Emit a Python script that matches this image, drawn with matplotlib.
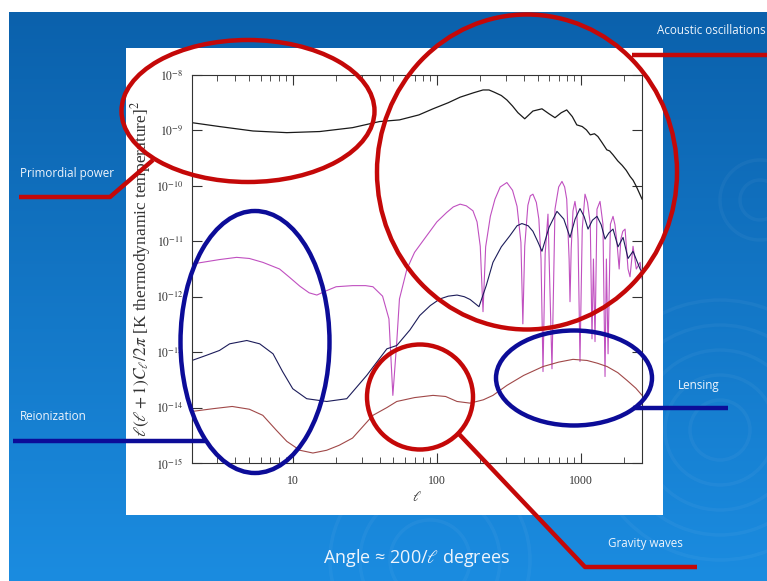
import numpy as np
import matplotlib
matplotlib.use("Agg")
import matplotlib.pyplot as plt
from matplotlib.patches import Ellipse, Rectangle, Circle

# --- spectra (ell, log10 of l(l+1)C_l/2pi) ---
tt_ell = [2, 3.1, 5.3, 9.1, 15.4, 26, 40, 55, 75, 94, 120, 145, 180, 209, 230, 250, 280,
          306, 335, 365, 407, 464, 536, 600, 660, 730, 796, 870, 935, 1020, 1090, 1160, 1240,
          1310, 1400, 1510, 1580, 1668, 1800, 1930, 2060, 2190, 2300, 2420, 2654]
tt_log = [-8.86, -8.93, -9.01, -9.04, -9.02, -8.95, -8.84, -8.81, -8.72, -8.61, -8.50,
          -8.40, -8.32, -8.27, -8.27, -8.31, -8.37, -8.45, -8.56, -8.68, -8.79, -8.65, -8.61,
          -8.70, -8.77, -8.68, -8.63, -8.75, -8.90, -8.93, -8.99, -9.08, -9.06, -9.11, -9.22,
          -9.35, -9.37, -9.44, -9.55, -9.63, -9.72, -9.83, -9.90, -10.01, -10.24]

ee_ell = [2, 3.1, 4.08, 5, 6.2, 8.1, 9.5, 11.2, 13, 14.7, 17.2, 20, 26, 32, 36, 42, 46.5,
          49.5, 52.7, 55, 62, 70, 85, 100, 117, 130, 145, 160, 178, 190, 200, 209, 218, 235,
          253, 275, 306, 335, 360, 383, 395, 407, 428, 445, 464, 490, 510, 528, 545, 564,
          590, 629, 660, 700, 738, 770, 796, 827, 839, 855, 880, 908, 935, 954, 984, 1020,
          1066, 1110, 1160, 1192, 1220, 1251, 1291, 1355, 1420, 1468, 1500, 1541, 1600, 1668,
          1720, 1780, 1840, 1890, 1950, 2022, 2120, 2188, 2296, 2420, 2570, 2654]
ee_log = [-11.41, -11.33, -11.29, -11.31, -11.38, -11.50, -11.65, -11.81, -11.93, -11.97,
          -11.89, -11.82, -11.80, -11.80, -11.82, -11.99, -12.40, -13.78, -12.81, -12.04,
          -11.50, -11.20, -10.90, -10.65, -10.48, -10.38, -10.33, -10.36, -10.45, -10.65,
          -11.09, -12.27, -11.10, -10.55, -10.24, -10.02, -9.94, -10.08, -10.37, -11.02,
          -12.49, -11.09, -10.35, -10.18, -10.15, -10.30, -10.60, -11.32, -13.35, -11.23,
          -10.51, -13.30, -10.42, -10.02, -9.92, -10.02, -10.24, -11.32, -12.09, -11.14,
          -10.45, -10.28, -10.50, -10.96, -13.17, -10.78, -10.15, -10.30, -10.69, -12.76,
          -11.32, -12.81, -10.42, -10.28, -10.69, -13.44, -11.32, -13.03, -10.69, -10.55,
          -10.70, -11.05, -11.50, -10.96, -10.82, -10.78, -11.50, -11.64, -11.09, -11.50,
          -11.38, -11.68]

te_ell = [2, 2.5, 3.1, 3.65, 4.8, 5.9, 7.3, 8.5, 10, 12.5, 17.2, 23.7, 32.6, 45, 52.7, 65,
          76, 90, 105, 120, 138, 155, 170, 196, 220, 245, 280, 321, 360, 389, 430, 464, 500,
          536, 600, 681, 760, 839, 910, 984, 1050, 1119, 1200, 1291, 1380, 1468, 1560, 1668,
          1807, 1958, 2120, 2296, 2570, 2654]
te_log = [-13.15, -13.06, -12.97, -12.85, -12.79, -12.85, -13.03, -13.35, -13.66, -13.84,
          -13.89, -13.84, -13.42, -12.94, -12.88, -12.60, -12.34, -12.16, -12.04, -11.99,
          -11.97, -12.00, -12.05, -12.18, -11.80, -11.38, -11.10, -10.90, -10.72, -10.68,
          -10.72, -10.82, -11.00, -11.18, -10.75, -10.46, -10.60, -10.93, -10.60, -10.41,
          -10.55, -10.78, -10.62, -10.55, -10.70, -10.96, -10.85, -10.78, -11.10, -10.93,
          -11.31, -11.18, -11.50, -11.55]

bb_ell = [2, 2.8, 3.8, 5, 6.2, 7.7, 9.1, 11.2, 13.8, 17.2, 21, 26, 36, 45, 52.7, 70, 94,
          115, 138, 170, 210, 245, 306, 400, 545, 700, 880, 1101, 1300, 1517, 1800, 2086,
          2400, 2654]
bb_log = [-14.07, -14.02, -13.98, -14.03, -14.14, -14.41, -14.61, -14.77, -14.82, -14.77,
          -14.68, -14.55, -14.14, -14.00, -13.89, -13.82, -13.78, -13.80, -13.89, -13.92,
          -13.86, -13.78, -13.60, -13.42, -13.26, -13.18, -13.13, -13.15, -13.20, -13.26,
          -13.37, -13.51, -13.65, -13.78]

x_ticks = [10, 100, 1000]
x_ticklabels = ["10", "100", "1000"]
y_ticks = [1e-15, 1e-14, 1e-13, 1e-12, 1e-11, 1e-10, 1e-9, 1e-8]

W, H = 767, 581
fig = plt.figure(figsize=(W / 100, H / 100), dpi=100, facecolor="white")

# slide background
bg = fig.add_axes([0, 0, 1, 1], zorder=0)
top = np.array([11, 97, 172]) / 255
bot = np.array([27, 140, 224]) / 255
t = np.linspace(0, 1, 256)[:, None]
grad = top[None, None, :] * (1 - t[..., None]) + bot[None, None, :] * t[..., None]
grad = np.repeat(grad, 2, axis=1)
bg.imshow(grad, extent=(9, W, H, 12), aspect="auto", interpolation="bilinear")
for cx, cy, radii in [(720, 430, [30, 55, 80, 105, 130]), (760, 200, [20, 40]),
                      (430, 560, [40, 70, 100])]:
    for r in radii:
        bg.add_patch(Circle((cx, cy), r, fill=False, ec="white", lw=2.5, alpha=0.04))
bg.add_patch(Rectangle((126, 48), 537, 467, fc="white", ec="none", zorder=3))
bg.set_xlim(0, W)
bg.set_ylim(H, 0)
bg.axis("off")

# the spectra plot
plt.rcParams["mathtext.fontset"] = "stix"
ax = fig.add_axes([192 / W, 1 - 463 / H, 450 / W, 388 / H], zorder=1)
ax.set_facecolor("white")
ax.plot(tt_ell, 10 ** np.array(tt_log), color="#1a1a1a", lw=0.9)
ax.plot(ee_ell, 10 ** np.array(ee_log), color="#c050c0", lw=0.8)
ax.plot(te_ell, 10 ** np.array(te_log), color="#1c1c5a", lw=0.8)
ax.plot(bb_ell, 10 ** np.array(bb_log), color="#a04848", lw=0.8)
ax.set_xscale("log")
ax.set_yscale("log")
ax.set_xlim(2, 2650)
ax.set_ylim(1e-15, 1e-8)
ax.set_xticks(x_ticks)
ax.set_xticklabels(x_ticklabels, family="Liberation Serif", fontsize=8.5, color="#333333")
ax.set_yticks(y_ticks)
ax.set_yticklabels([r"$10^{%d}$" % int(np.log10(v)) for v in y_ticks], fontsize=8.5,
                   color="#333333")
ax.yaxis.set_minor_locator(matplotlib.ticker.NullLocator())
ax.tick_params(which="both", direction="in", top=True, right=True, colors="#333333")
ax.tick_params(which="major", length=7, width=0.8, pad=6)
ax.tick_params(which="minor", length=4, width=0.6)
ax.tick_params(axis="x", which="major", pad=9)
for s in ax.spines.values():
    s.set_linewidth(0.8)
    s.set_color("#333333")
ax.set_xlabel(r"$\ell$", fontsize=10, color="#333333", labelpad=2)
ax.set_ylabel(r"$\ell(\ell+1)C_\ell/2\pi$ [K thermodynamic temperature]$^2$",
              family="Liberation Serif", fontsize=12.5, color="#333333", labelpad=2)

# overlay with the slide annotations
ov = fig.add_axes([0, 0, 1, 1], zorder=2)
ov.set_facecolor("none")
ov.set_xlim(0, W)
ov.set_ylim(H, 0)
ov.axis("off")
red = "#c40808"
blue = "#0c0c98"
for (cx, cy, w, h, c) in [(248, 111, 253, 142, red), (527, 172, 300, 315, red),
                          (255, 342, 149, 262, blue), (420, 397, 106, 105, red),
                          (574, 378, 156, 95, blue)]:
    ov.add_patch(Ellipse((cx, cy), w, h, fill=False, ec=c, lw=3.2))
ov.plot([19, 110, 153], [197, 197, 160], color=red, lw=3.2, solid_capstyle="butt")
ov.plot([13, 205], [441, 441], color=blue, lw=3.2, solid_capstyle="butt")
ov.plot([633, 728], [408, 408], color=blue, lw=3.2, solid_capstyle="butt")
ov.plot([458, 585, 697], [433, 567, 567], color=red, lw=3.2, solid_capstyle="butt")
ov.plot([632, 767], [55, 55], color=red, lw=3.2, solid_capstyle="butt")

lab = dict(color="#eef4fc", family="Open Sans", fontsize=8.4, va="center", ha="left")
ov.text(20, 173, "Primordial power", **lab)
ov.text(20, 417, "Reionization", **lab)
ov.text(678, 386, "Lensing", **lab)
ov.text(608, 543, "Gravity waves", **lab)
ov.text(657, 31, "Acoustic oscillations", clip_on=True, **lab)
ov.text(323, 558, r"Angle ≈ 200/$\ell$ degrees", color="#eef4fc", family="Open Sans",
        fontsize=13, va="center", ha="left")

fig.savefig("out.png", dpi=100)
